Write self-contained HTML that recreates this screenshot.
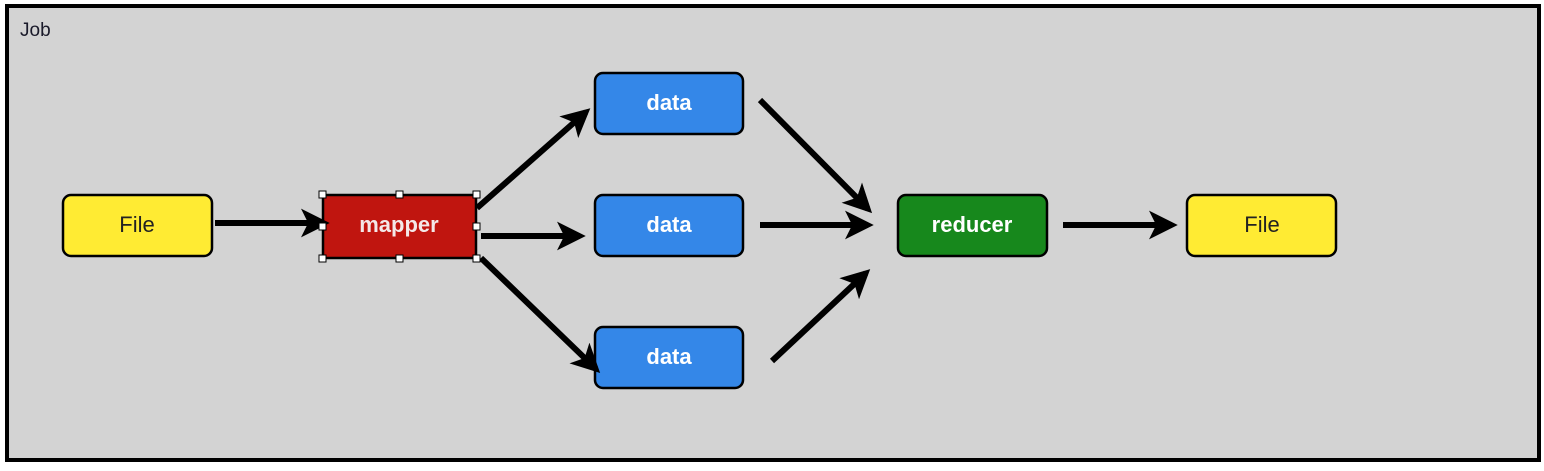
<!DOCTYPE html>
<html><head><style>
body{margin:0;width:1544px;height:466px;background:#fff;overflow:hidden;font-family:"Liberation Sans",sans-serif}
</style></head><body>
<svg width="1544" height="466" xmlns="http://www.w3.org/2000/svg">
<defs><marker id="a" viewBox="0 0 10 10" refX="8" refY="5" markerWidth="4.8" markerHeight="4.8" orient="auto"><path d="M0,0 L10,5 L0,10 L2.5,5 Z" fill="#000"/></marker></defs>
<rect x="7" y="6" width="1532" height="454" fill="#d3d3d3" stroke="#000" stroke-width="4"/>
<text x="20" y="36" font-size="19" fill="#1a1a2a">Job</text>
<g stroke="#000" stroke-width="2.5">
<rect x="63" y="195" width="149" height="61" rx="8" fill="#ffeb33"/>
<rect x="323" y="195" width="153" height="63" rx="3" fill="#c0150f"/>
<rect x="595" y="73" width="148" height="61" rx="8" fill="#3487e8"/>
<rect x="595" y="195" width="148" height="61" rx="8" fill="#3487e8"/>
<rect x="595" y="327" width="148" height="61" rx="8" fill="#3487e8"/>
<rect x="898" y="195" width="149" height="61" rx="8" fill="#17881c"/>
<rect x="1187" y="195" width="149" height="61" rx="8" fill="#ffeb33"/>
</g>
<g stroke="#000" stroke-width="6" marker-end="url(#a)" fill="none">
<line x1="215" y1="223" x2="324" y2="223"/>
<line x1="477" y1="208" x2="586" y2="112"/>
<line x1="481" y1="236" x2="580" y2="236"/>
<line x1="481" y1="258" x2="596" y2="369"/>
<line x1="760" y1="100" x2="868" y2="209"/>
<line x1="760" y1="225" x2="868" y2="225"/>
<line x1="772" y1="361" x2="866" y2="273"/>
<line x1="1063" y1="225" x2="1172" y2="225"/>
</g>
<g fill="#fff" stroke="#000" stroke-width="1">
<rect x="319" y="191" width="7" height="7"/><rect x="396" y="191" width="7" height="7"/><rect x="473" y="191" width="7" height="7"/>
<rect x="319" y="223" width="7" height="7"/><rect x="473" y="223" width="7" height="7"/>
<rect x="319" y="255" width="7" height="7"/><rect x="396" y="255" width="7" height="7"/><rect x="473" y="255" width="7" height="7"/>
</g>
<g font-size="22" text-anchor="middle" font-weight="bold">
<text x="137" y="232" fill="#222" font-weight="normal">File</text>
<text x="399" y="232" fill="#f4e8e8">mapper</text>
<text x="669" y="110" fill="#fff">data</text>
<text x="669" y="232" fill="#fff">data</text>
<text x="669" y="364" fill="#fff">data</text>
<text x="972" y="232" fill="#fff">reducer</text>
<text x="1262" y="232" fill="#222" font-weight="normal">File</text>
</g>
</svg>
</body></html>
